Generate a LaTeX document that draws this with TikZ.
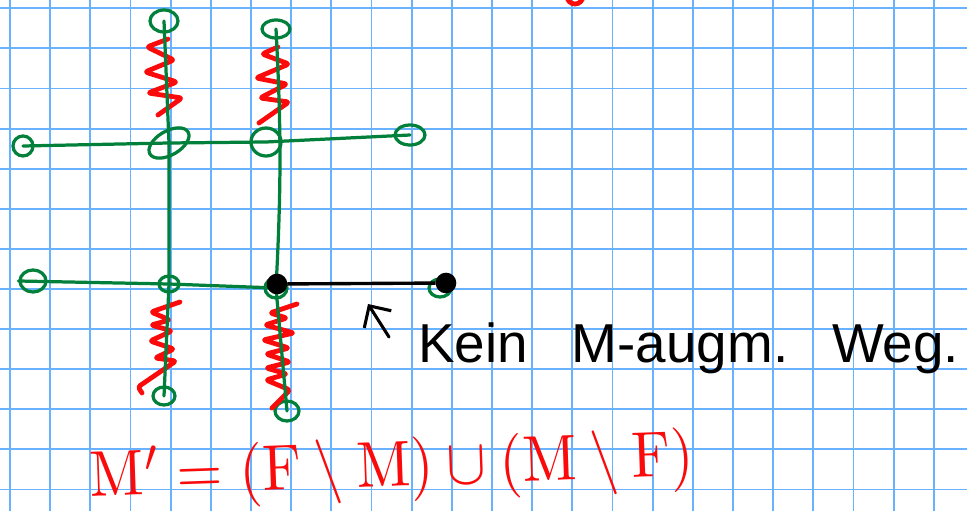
\documentclass[tikz,border=0pt]{standalone}
\usepackage{fontspec}
\usepackage{graphicx}
\usepackage{tikz}
\usetikzlibrary{shapes.geometric,arrows.meta}
\newfontfamily\notefont{Liberation Sans}
\definecolor{gridblue}{RGB}{105,178,255}
\definecolor{pengreen}{RGB}{0,128,58}
\definecolor{penred}{RGB}{250,10,10}
\tikzstyle{gridline}=[gridblue,line width=1.3pt]
\tikzstyle{edge}=[pengreen,line width=2.3pt,line cap=round,line join=round]
\tikzstyle{vertex}=[ellipse,draw=pengreen,line width=2.3pt,inner sep=0pt]
\tikzstyle{blackdot}=[circle,fill=black,draw=black,line width=1pt,inner sep=0pt,minimum size=0.48cm]
\tikzstyle{spring}=[penred,line width=3.4pt,line cap=round,line join=round,rounded corners=2pt]

\begin{document}
\begin{tikzpicture}[x=0.025cm,y=-0.025cm]
	\useasboundingbox (0,0) rectangle (967,511);
	\clip (0,0) rectangle (967,511);
	\fill[white] (0,0) rectangle (967,511);
	% grid paper
	\foreach \i in {0,...,23}
		\draw[gridline] ({10+40.17*\i},0) -- ({10+40.17*\i},511);
	\foreach \j in {0,...,12}
		\draw[gridline] (0,{8.3+40.1*\j}) -- (967,{8.3+40.1*\j});
	% vertices
	\node[vertex,minimum width=0.7cm,minimum height=0.55cm] (t1) at (164,21) {};
	\node[vertex,minimum width=0.7cm,minimum height=0.45cm] (t2) at (276,29) {};
	\node[vertex,minimum width=0.5cm,minimum height=0.5cm] (l1) at (23,146) {};
	\node[vertex,rotate=30,minimum width=1.1cm,minimum height=0.6cm] (c1) at (169,143) {};
	\node[vertex,minimum width=0.75cm,minimum height=0.7cm] (c2) at (266,142) {};
	\node[vertex,minimum width=0.75cm,minimum height=0.5cm] (r1) at (410,135) {};
	\node[vertex,minimum width=0.65cm,minimum height=0.55cm] (l2) at (33,281) {};
	\node[vertex,minimum width=0.5cm,minimum height=0.4cm] (c3) at (169,284) {};
	\node[vertex,minimum width=0.55cm,minimum height=0.5cm] (c4) at (276,288) {};
	\node[vertex,minimum width=0.55cm,minimum height=0.45cm] (r2) at (440,288) {};
	\node[vertex,minimum width=0.55cm,minimum height=0.45cm] (b1) at (164,396) {};
	\node[vertex,minimum width=0.6cm,minimum height=0.5cm] (b2) at (287,411) {};
	% matching M (red springs)
	\draw[spring] (168,39) -- (147,47) -- (174,60) -- (145,72) -- (177,82) -- (148,93) -- (182,98) -- (158,115);
	\draw[spring] (278,47) -- (262,54) -- (289,64) -- (256,78) -- (287,84) -- (260,98) -- (289,102) -- (259,123);
	\draw[spring] (180,302) -- (151,312) -- (170,320) -- (151,325) -- (172,331) -- (150,341) -- (174,349) -- (155,358) -- (176,361) -- (138,387) -- (142,393);
	\draw[spring] (297,304) -- (270,313) -- (287,318) -- (265,325) -- (294,333) -- (263,340) -- (289,348) -- (266,354) -- (290,362) -- (266,368) -- (287,374) -- (266,380) -- (290,390) -- (272,408);
	% edges F
	\draw[edge] (t1.center) -- (c1.center) -- (c3.center) -- (b1.center);
	\draw[edge] (t2.center) to[bend left=3] (c4.center) -- (b2.center);
	\draw[edge] (l1.center) -- (c1.center) -- (c2.center) -- (r1.center);
	\draw[edge] (l2.west) -- (c3.center) -- (c4.center);
	% path without M-augmentation
	\node[blackdot] (c4m) at (277,284) {};
	\node[blackdot] (r2m) at (446,283) {};
	\draw[black,line width=2.4pt] (c4m) -- (r2m);
	\node[draw=penred,line width=3.4pt,circle,minimum size=0.4cm,inner sep=0pt] (topmark) at (575,-4) {};
	% note
	\coordinate (arrtail) at (389,337);
	\coordinate (arrtip) at (368,304);
	\draw[black,line width=2.2pt,line cap=round,-{Straight Barb[length=0.4cm,width=0.8cm]}] (arrtail) -- (arrtip);
	\node[anchor=base west,inner sep=0pt] (note) at (418,362) {\notefont\fontsize{39}{41}\selectfont Kein\hspace{0.8em}M-augm.\hspace{0.8em}Weg.};
	\node[penred,inner sep=0pt,rotate=2] (formula) at (392,470) {\scalebox{4.2}[4.6]{$\mathrm{M}' = (\mathrm{F}\setminus \mathrm{M})\cup(\mathrm{M}\setminus \mathrm{F})$}};
\end{tikzpicture}
\end{document}
